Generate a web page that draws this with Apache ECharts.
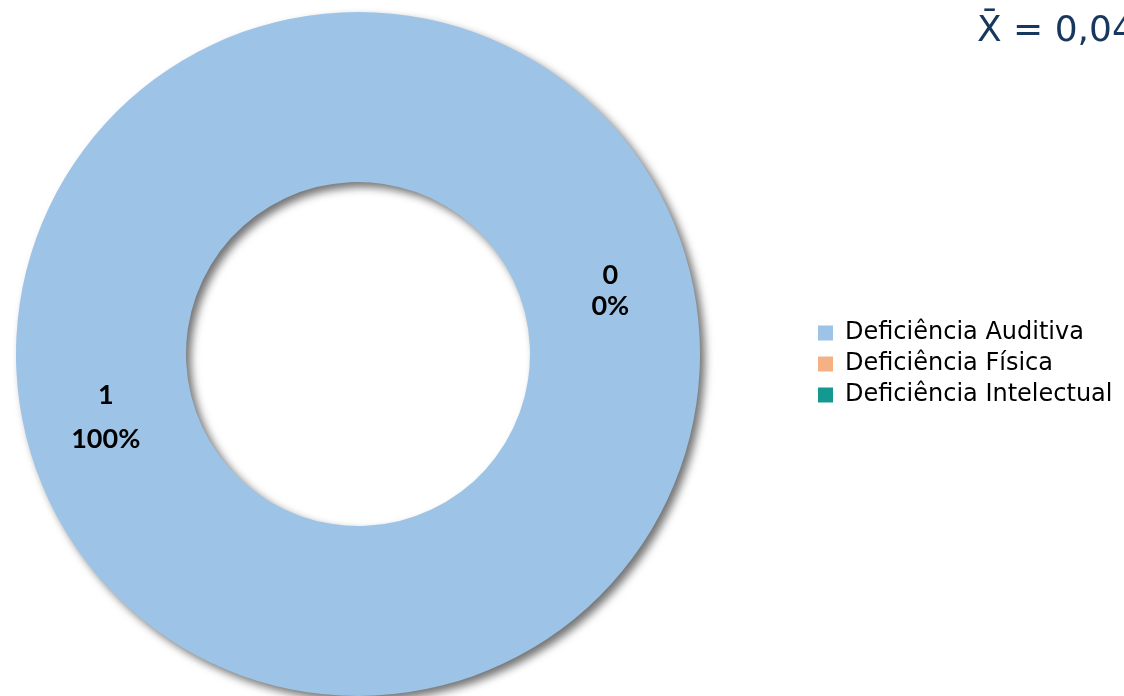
<!DOCTYPE html>
<html>
<head>
<meta charset="utf-8">
<script src="https://cdn.jsdelivr.net/npm/echarts@6/dist/echarts.min.js"></script>
<style>
html,body{margin:0;padding:0;background:#fff;}
#chart{width:1124px;height:696px;}
</style>
</head>
<body>
<div id="chart"></div>
<script>
const categories = ['Deficiência Auditiva', 'Deficiência Física', 'Deficiência Intelectual'];
const values = [1, 0, 0];
const colors = ['#9DC3E6', '#F4B183', '#13998F'];
const meanText = 'X\u0304 = 0,04';

const chart = echarts.init(document.getElementById('chart'));
const data = categories.map((name, i) => ({
  name: name,
  value: values[i],
  itemStyle: { color: colors[i] },
  label: { show: i < 2, lineHeight: i === 0 ? 44 : 31 }
}));

chart.setOption({
  animation: false,
  backgroundColor: '#ffffff',
  title: {
    text: meanText,
    left: 972,
    top: 9,
    textStyle: { fontFamily: 'DejaVu Sans', fontWeight: 'normal', fontSize: 36, color: '#17375E' }
  },
  legend: {
    orient: 'vertical',
    left: 813,
    top: 316,
    itemWidth: 15,
    itemHeight: 15,
    itemGap: 7,
    icon: 'rect',
    data: categories,
    selectedMode: false,
    textStyle: { fontFamily: 'DejaVu Sans', fontSize: 24, color: '#000', lineHeight: 24, padding: [0, 0, 0, 7] }
  },
  series: [{
    type: 'pie',
    center: [358, 354],
    radius: [172, 342],
    startAngle: 14,
    clockwise: true,
    silent: true,
    data: data,
    itemStyle: {
      shadowBlur: 9,
      shadowOffsetX: 5,
      shadowOffsetY: 5,
      shadowColor: 'rgba(0,0,0,0.55)'
    },
    label: {
      position: 'inside',
      formatter: '{c}\n{d}%',
      fontFamily: 'Lato',
      fontWeight: 'bold',
      fontSize: 27,
      color: '#000'
    },
    labelLine: { show: false },
    emphasis: { disabled: true }
  }]
});
</script>
</body>
</html>
